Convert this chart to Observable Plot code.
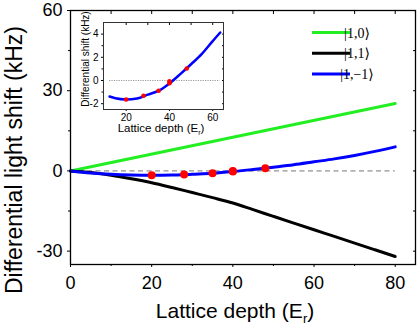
<!DOCTYPE html>
<html><head><meta charset="utf-8">
<script src="https://cdn.jsdelivr.net/npm/d3@7"></script>
<script src="https://cdn.jsdelivr.net/npm/@observablehq/plot@0.6"></script>
<style>
body{margin:0;background:#fff;}
#wrap{position:relative;width:418px;height:327px;overflow:hidden;}
#inset{position:absolute;left:68px;top:5px;}
svg{display:block;}
</style></head><body><div id="wrap"><div id="main"></div><div id="inset"></div></div>
<script>
// ---- data ----
const depth = [0,5,10,15,20,25,30,35,40,45,50,55,60,65,70,75,80];
const shiftM1 = [0,-0.75,-1.25,-1.53,-1.63,-1.55,-1.22,-0.88,-0.25,0.55,1.4,2.3,3.4,4.5,5.8,7.3,9.0]; // |1,-1>
const shiftP1 = [0,-0.6,-1.6,-2.9,-4.4,-6.2,-8.1,-10.0,-12.0,-14.5,-17.0,-19.5,-22.0,-24.5,-27.0,-29.5,-32.0]; // |1,1>
const depthZero = [0,80];
const shiftZero = [0,25.2]; // |1,0>
const expDepth = [20,28,35,40,40,48];
const expShift = [-1.64,-1.32,-0.89,-0.06,-0.23,1.03];
const insetDepth = [12.3,15,20,25,30,35,40,45,50,55,60,63.5];
const insetShift = [-1.38,-1.53,-1.63,-1.55,-1.22,-0.88,-0.25,0.55,1.4,2.3,3.4,4.14];
const mainXTicks = [0,20,40,60,80];
const mainXMinor = [10,30,50,70];
const mainYTicks = [-30,0,30,60];
const mainYMinor = [-15,15,45];
const insetXTicks = [20,40,60];
const insetXMinor = [30,50];
const insetYTicks = [-2,0,2,4];
const insetYMinor = [-1,1,3];
const legendLabels = ["|1,0\u27E9","|1,1\u27E9","|1,\u22121\u27E9"];
const legendColors = ["#22ee22","#000000","#0000ff"];
const xTitle = ["Lattice depth (E","r",")"];
const yTitle = "Differential light shift (kHz)";
const insetYTitle = "Differential shift (kHz)";

// ---- tables ----
const rowsZero = depthZero.map((d,i)=>({x:d,y:shiftZero[i]}));
const rowsP1 = depth.map((d,i)=>({x:d,y:shiftP1[i]}));
const rowsM1 = depth.map((d,i)=>({x:d,y:shiftM1[i]}));
const rowsExp = expDepth.map((d,i)=>({x:d,y:expShift[i]}));
const rowsInset = insetDepth.map((d,i)=>({x:d,y:insetShift[i]}));
const font = "Liberation Sans, Arial, Helvetica, sans-serif";
const blank = () => "";
const plain = d => String(d);

const main = Plot.plot({
  width:418, height:327, marginTop:10, marginLeft:70, marginRight:3, marginBottom:63,
  x:{domain:[0,85]}, y:{domain:[-35,60]},
  style:{fontFamily:font, background:"transparent", color:"black"},
  marks:[
    Plot.ruleY([0],{x1:d3.min(depth), x2:d3.max(depth), stroke:"#777", strokeDasharray:"5,3.5", strokeWidth:1}),
    Plot.line(rowsZero,{x:"x",y:"y",stroke:legendColors[0],strokeWidth:3}),
    Plot.line(rowsP1,{x:"x",y:"y",stroke:legendColors[1],strokeWidth:3,curve:"monotone-x"}),
    Plot.line(rowsM1,{x:"x",y:"y",stroke:legendColors[2],strokeWidth:3,curve:"monotone-x"}),
    Plot.dot(rowsExp,{x:"x",y:"y",r:4,fill:"#ff0000",stroke:"none"}),
    Plot.axisX(mainXTicks,{tickSize:3,tickPadding:9,fontSize:18,label:null,tickFormat:plain}),
    Plot.axisX(mainXMinor,{tickSize:2,tickFormat:blank,label:null}),
    Plot.axisX(mainXTicks.concat(mainXMinor),{anchor:"top",tickSize:-3,tickFormat:blank,label:null}),
    Plot.axisY(mainYTicks,{tickSize:3,tickPadding:5,fontSize:18,label:null,tickFormat:plain}),
    Plot.axisY(mainYMinor,{tickSize:2,tickFormat:blank,label:null}),
    Plot.axisY(mainYTicks.concat(mainYMinor),{anchor:"right",tickSize:-3,tickFormat:blank,label:null}),
    Plot.frame({stroke:"black",strokeWidth:1.3})
  ]
});
document.getElementById("main").appendChild(main);

const svg = d3.select(main);
const xt = svg.append("text").attr("x",235).attr("y",318).attr("text-anchor","middle")
  .style("font-family",font).style("font-size","21px").attr("fill","black");
xt.append("tspan").text(xTitle[0]);
xt.append("tspan").attr("font-size","13px").attr("dy",5).text(xTitle[1]);
xt.append("tspan").attr("dy",-5).text(xTitle[2]);
svg.append("text").attr("transform","translate(22,160) rotate(-90)").attr("text-anchor","middle")
  .style("font-family",font).style("font-size","23px").attr("fill","black").text(yTitle);

const lg = svg.append("g");
legendLabels.forEach((lab,i)=>{
  const y = 32.5 + 20.7*i;
  lg.append("line").attr("x1",312).attr("x2",350).attr("y1",y).attr("y2",y)
    .attr("stroke",legendColors[i]).attr("stroke-width",3);
  lg.append("text").attr("x",357).attr("y",y+5)
    .style("font-family","Liberation Serif, DejaVu Serif, serif").style("font-size","14px")
    .attr("fill","black").text(lab);
});

const inset = Plot.plot({
  width:160, height:134, marginLeft:35, marginTop:17, marginRight:5, marginBottom:30,
  x:{domain:[9.5,65]}, y:{domain:[-2.5,5]},
  style:{fontFamily:font, background:"transparent", color:"black", fontSize:"10px"},
  marks:[
    Plot.ruleY([0],{x1:d3.min(insetDepth), x2:d3.max(insetDepth), stroke:"#999", strokeDasharray:"1.2,1.2", strokeWidth:1}),
    Plot.line(rowsInset,{x:"x",y:"y",stroke:legendColors[2],strokeWidth:2.5,curve:"monotone-x"}),
    Plot.dot(rowsExp,{x:"x",y:"y",r:2.3,fill:"#ff0000",stroke:"none"}),
    Plot.axisX(insetXTicks,{tickSize:2,tickPadding:2,fontSize:10,label:null,tickFormat:plain}),
    Plot.axisX(insetXTicks.concat(insetXMinor),{anchor:"top",tickSize:-2,tickFormat:blank,label:null}),
    Plot.axisY(insetYTicks,{tickSize:2,tickPadding:3,fontSize:10,label:null,tickFormat:plain}),
    Plot.axisY(insetYMinor,{tickSize:1.5,tickFormat:blank,label:null}),
    Plot.axisY(insetYTicks.concat(insetYMinor),{anchor:"right",tickSize:-2,tickFormat:blank,label:null}),
    Plot.frame({stroke:"#333",strokeWidth:1})
  ]
});
document.getElementById("inset").appendChild(inset);
const isvg = d3.select(inset);
const ixt = isvg.append("text").attr("x",93).attr("y",127).attr("text-anchor","middle")
  .style("font-family",font).style("font-size","11.5px").attr("fill","black");
ixt.append("tspan").text(xTitle[0]);
ixt.append("tspan").attr("font-size","7px").attr("dy",2.5).text(xTitle[1]);
ixt.append("tspan").attr("dy",-2.5).text(xTitle[2]);
isvg.append("text").attr("transform","translate(21,54) rotate(-90)").attr("text-anchor","middle")
  .style("font-family",font).style("font-size","10px").attr("fill","black").text(insetYTitle);
</script></body></html>
